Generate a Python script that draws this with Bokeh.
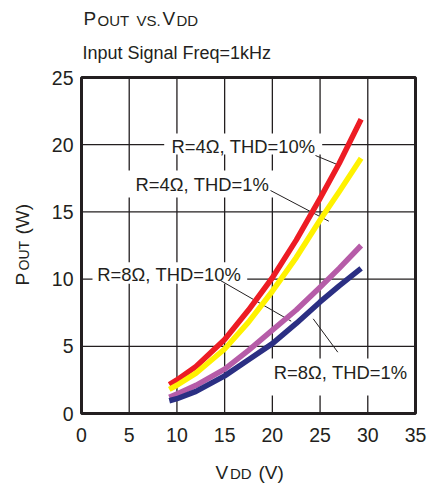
import math
from bokeh.plotting import figure
from bokeh.models import Range1d, Label, FixedTicker, BoxAnnotation
from bokeh.embed import file_html
from bokeh.resources import INLINE

# ---------------- data ----------------
vdd = [9.2, 10, 12, 15, 17.5, 20, 22.5, 25, 27, 29.3]
pout_4ohm_thd10 = [2.15, 2.5, 3.5, 5.5, 7.7, 10.1, 12.9, 16.0, 18.6, 21.9]
pout_4ohm_thd1 = [1.8, 2.1, 3.0, 4.8, 6.8, 9.1, 11.6, 14.4, 16.5, 19.0]
pout_8ohm_thd10 = [1.2, 1.45, 2.1, 3.3, 4.7, 6.2, 7.7, 9.4, 10.8, 12.5]
pout_8ohm_thd1 = [0.95, 1.1, 1.65, 2.8, 4.0, 5.2, 6.7, 8.3, 9.5, 10.8]
series_names = ["R=4Ω, THD=10%", "R=4Ω, THD=1%", "R=8Ω, THD=10%", "R=8Ω, THD=1%"]
series_colors = ["#ED1C24", "#FFF200", "#B65CA8", "#2B2F83"]
x_ticks = [0, 5, 10, 15, 20, 25, 30, 35]
y_ticks = [0, 5, 10, 15, 20, 25]

INK = "#231F20"
FONT = "Liberation Sans"
W, H = 432, 486
FL, FR, FT, FB = 81, 415, 77, 413  # visible plot box edges in canvas px
X0, X1, Y0, Y1 = 0, 35, 0, 25
SX = (X1 - X0) / (FR - FL)
SY = (Y1 - Y0) / (FB - FT)


def dx(px):
    """canvas pixel x -> data x"""
    return X0 + (px - FL) * SX


def dy(py):
    """canvas pixel y -> data y"""
    return Y0 + (FB - py) * SY


p = figure(width=W, height=H,
           x_range=Range1d(dx(0), dx(W)), y_range=Range1d(dy(H), dy(0)),
           output_backend="svg", toolbar_location=None, title=None,
           min_border=0, min_border_left=0, min_border_right=0,
           min_border_top=0, min_border_bottom=0)
p.background_fill_color = "white"
p.border_fill_color = "white"
p.outline_line_color = None
p.xgrid.visible = False
p.ygrid.visible = False

p.xaxis.ticker = FixedTicker(ticks=x_ticks)
p.yaxis.ticker = FixedTicker(ticks=y_ticks)
p.xaxis.fixed_location = Y0
p.yaxis.fixed_location = X0
for ax in (p.xaxis[0], p.yaxis[0]):
    ax.axis_line_color = None
    ax.major_tick_line_color = None
    ax.minor_tick_line_color = None
    ax.major_tick_out = 0
    ax.major_tick_in = 0
    ax.major_label_text_font = FONT
    ax.major_label_text_font_size = "19.5px"
    ax.major_label_text_color = INK
p.xaxis[0].major_label_standoff = 14
p.yaxis[0].major_label_standoff = 8

# grid lines at the tick positions, bounded by the plot box
p.segment(x0=x_ticks, x1=x_ticks, y0=[Y0] * len(x_ticks), y1=[Y1] * len(x_ticks),
          line_color=INK, line_width=1.3)
p.segment(x0=[X0] * len(y_ticks), x1=[X1] * len(y_ticks), y0=y_ticks, y1=y_ticks,
          line_color=INK, line_width=1.3)

# white boxes behind the series labels (canvas px)
boxes = [(163.7, 321.7, 133, 154), (125, 280, 170, 197),
         (92, 246.7, 261.7, 283.3), (268, 411.5, 358, 395)]
p.quad(left=[dx(b[0]) for b in boxes], right=[dx(b[1]) for b in boxes],
       top=[dy(b[2]) for b in boxes], bottom=[dy(b[3]) for b in boxes],
       fill_color="white", line_color=None)

# leader lines (canvas px)
leaders = [((315, 155), (336.7, 164)), ((270, 190), (328.3, 220.7)),
           ((220, 280), (290.7, 320.7)), ((337.3, 351.7), (312.7, 318.3))]
p.segment(x0=[dx(a[0]) for a, b in leaders], y0=[dy(a[1]) for a, b in leaders],
          x1=[dx(b[0]) for a, b in leaders], y1=[dy(b[1]) for a, b in leaders],
          line_color=INK, line_width=1)

for ys, c in zip([pout_4ohm_thd10, pout_4ohm_thd1, pout_8ohm_thd10, pout_8ohm_thd1],
                 series_colors):
    p.line(vdd, ys, line_color=c, line_width=5.5, line_join="round")

# plot box outline
p.add_layout(BoxAnnotation(left=X0, right=X1, bottom=Y0, top=Y1,
                           fill_color=None, fill_alpha=0,
                           line_color=INK, line_width=3, line_alpha=1))

# series labels (canvas px: left x, middle y)
label_pos = [(171, 145.5), (135, 184), (96.7, 273.5), (273.3, 371.5)]
for name, (lx, ly) in zip(series_names, label_pos):
    p.add_layout(Label(x=dx(lx), y=dy(ly), text=name, text_font=FONT,
                       text_font_size="18.4px", text_color=INK,
                       text_align="left", text_baseline="middle"))

MID = 0.35  # em offset of the "middle" anchor above the text baseline


def add_text(txt, start, base, size, rotated=False):
    """place text starting at `start` with its baseline at `base` (canvas px)"""
    off = MID * size
    if rotated:
        x, y = base - off, start
    else:
        x, y = start, base - off
    p.add_layout(Label(x=dx(x), y=dy(y), text=txt, text_font=FONT,
                       text_font_size=f"{size}px", text_color=INK,
                       angle=(math.pi / 2 if rotated else 0.0),
                       text_align="left", text_baseline="middle"))


# title "POUT vs.VDD" in small caps
add_text("P", 83, 25, 19)
add_text("OUT", 97, 25, 15)
add_text("VS.", 136, 25, 15)
add_text("V", 162, 25, 19)
add_text("DD", 176, 25, 15)
# subtitle
add_text("Input Signal Freq=1kHz", 82, 59, 18)
# x axis label
add_text("V", 215, 478.3, 19)
add_text("DD", 229.5, 478.3, 15)
add_text("(V)", 258, 478.3, 19)
# y axis label (rotated; start = position along the text, from the bottom)
add_text("P", 285, 28.3, 19, rotated=True)
add_text("OUT", 270, 28.3, 14, rotated=True)
add_text("(W)", 234, 28.3, 19, rotated=True)

open("out.html", "w").write(file_html(p, INLINE))
